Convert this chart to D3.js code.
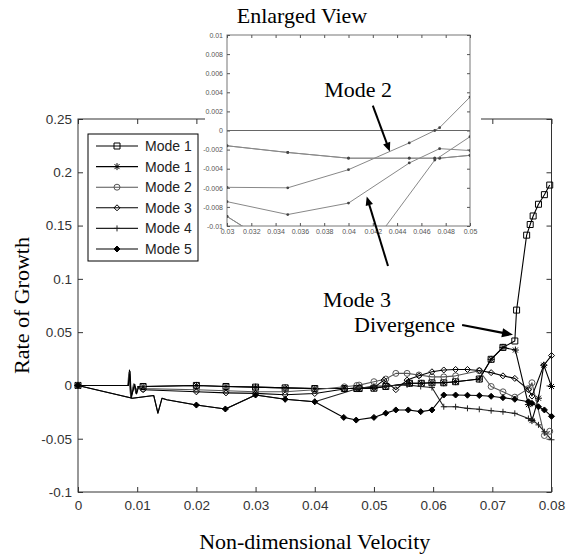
<!DOCTYPE html>
<html>
<head>
<meta charset="utf-8">
<script src="https://cdn.jsdelivr.net/npm/d3@7"></script>
<style>
  html, body { margin: 0; padding: 0; background: #fff; }
  svg { display: block; }
</style>
</head>
<body>
<svg id="chart" width="574" height="556"></svg>
<script>
// ---------- data: [non-dimensional velocity, rate of growth] ----------
const mode1Square = [
  [0,0],[0.0085,0],[0.0087,0.0145],[0.0089,-0.011],[0.0095,0.001],[0.0098,-0.0075],[0.0101,-0.001],
  [0.011,-0.001],[0.02,0],[0.025,-0.001],[0.03,-0.0016],[0.035,-0.0023],[0.04,-0.0029],[0.045,-0.0029],
  [0.0471,-0.0029],[0.0475,-0.0029],[0.05,-0.0026],[0.052,-0.001],[0.056,0.002],[0.058,0.002],
  [0.0598,0.0025],[0.0618,0.0025],[0.0638,0.0035],[0.0678,0.006],[0.0698,0.0245],[0.0718,0.0357],
  [0.0738,0.0417],[0.0741,0.0707],[0.0758,0.141],[0.0764,0.151],[0.0769,0.159],[0.0778,0.170],
  [0.0788,0.179],[0.0797,0.188]
];
const mode1Star = [
  [0,0],[0.0085,0],[0.0088,0.013],[0.009,-0.012],[0.0095,0.0005],[0.0099,-0.007],[0.0102,-0.001],
  [0.011,-0.001],[0.02,0],[0.025,-0.001],[0.03,-0.0016],[0.035,-0.0023],[0.04,-0.0029],[0.045,-0.0029],
  [0.0471,-0.0029],[0.0475,-0.0029],[0.05,-0.0026],[0.052,-0.001],[0.056,0.002],[0.058,0.002],
  [0.0598,0.0025],[0.0618,0.0025],[0.0638,0.0035],[0.0678,0.006],[0.0698,0.0245],[0.0718,0.0357],
  [0.0739,0.0332],[0.0761,-0.018],[0.0767,-0.033],[0.0778,-0.012],[0.0787,0.019],[0.08,-0.001]
];
const mode2 = [
  [0,0],[0.0084,0],[0.0086,0.012],[0.0089,-0.0105],[0.0094,0.0015],[0.0098,-0.006],[0.0101,-0.002],
  [0.011,-0.003],[0.02,-0.004],[0.025,-0.005],[0.03,-0.00595],[0.035,-0.006],[0.04,-0.0041],
  [0.045,-0.0013],[0.0471,0],[0.0475,0.0003],[0.05,0.0035],[0.052,0.006],[0.0537,0.0113],
  [0.0556,0.0113],[0.0576,0.0098],[0.0598,0.008],[0.0618,0.008],[0.0638,0.009],[0.0678,0.0138],
  [0.0698,-0.001],[0.0718,-0.006],[0.0738,-0.011],[0.0761,-0.003],[0.0767,0.0025],[0.0788,-0.047],
  [0.0797,-0.043]
];
const mode3 = [
  [0,0],[0.0085,0],[0.0087,0.011],[0.009,-0.010],[0.0096,0.001],[0.0099,-0.008],[0.0102,-0.002],
  [0.011,-0.004],[0.02,-0.006],[0.025,-0.007],[0.03,-0.00745],[0.035,-0.0088],[0.04,-0.0076],
  [0.045,-0.0034],[0.0475,-0.0019],[0.05,-0.0021],[0.0517,0.005],[0.0537,-0.004],[0.0556,0.005],
  [0.0576,0.009],[0.0598,0.0128],[0.0618,0.0145],[0.0638,0.015],[0.0658,0.015],[0.0678,0.014],
  [0.0698,0.012],[0.0718,0.009],[0.0738,0.0066],[0.0761,-0.004],[0.0767,-0.010],[0.0787,0.019],
  [0.08,0.028]
];
const mode4 = [
  [0,0],[0.0092,-0.012],[0.0128,-0.0095],[0.0135,-0.026],[0.0142,-0.012],[0.015,-0.0135],
  [0.02,-0.0184],[0.0249,-0.0221],[0.03,-0.009],[0.035,-0.013],[0.04,-0.0153],[0.0471,-0.0031],
  [0.05,-0.00065],[0.052,-0.0005],[0.0556,0.0005],[0.0579,-0.001],[0.0598,-0.002],[0.0618,-0.020],
  [0.0638,-0.020],[0.0658,-0.0215],[0.0678,-0.0224],[0.0698,-0.0237],[0.0718,-0.0247],
  [0.0738,-0.0262],[0.0761,-0.031],[0.0767,-0.032],[0.0778,-0.037],[0.0788,-0.0434],[0.08,-0.051]
];
const mode5 = [
  [0,0],[0.0092,-0.012],[0.0128,-0.0095],[0.0135,-0.026],[0.0142,-0.012],[0.015,-0.0135],
  [0.02,-0.0184],[0.0249,-0.0221],[0.03,-0.009],[0.035,-0.013],[0.04,-0.0153],[0.0449,-0.030],
  [0.047,-0.0325],[0.05,-0.030],[0.052,-0.026],[0.0537,-0.023],[0.0558,-0.023],[0.0579,-0.0246],
  [0.0598,-0.023],[0.0618,-0.009],[0.0638,-0.009],[0.0658,-0.0092],[0.0678,-0.0095],
  [0.0698,-0.0102],[0.0718,-0.0115],[0.0738,-0.013],[0.0761,-0.0153],[0.0767,-0.0168],
  [0.0778,-0.020],[0.0788,-0.023],[0.08,-0.029]
];

const legendLabels = ["Mode 1", "Mode 1", "Mode 2", "Mode 3", "Mode 4", "Mode 5"];

const xTicks = [0, 0.01, 0.02, 0.03, 0.04, 0.05, 0.06, 0.07, 0.08];
const xTickLabels = ["0", "0.01", "0.02", "0.03", "0.04", "0.05", "0.06", "0.07", "0.08"];
const yTicks = [-0.1, -0.05, 0, 0.05, 0.1, 0.15, 0.2, 0.25];
const yTickLabels = ["-0.1", "-0.05", "0", "0.05", "0.1", "0.15", "0.2", "0.25"];

const insetXTicks = [0.03, 0.032, 0.034, 0.036, 0.038, 0.04, 0.042, 0.044, 0.046, 0.048, 0.05];
const insetXTickLabels = ["0.03", "0.032", "0.034", "0.036", "0.038", "0.04", "0.042", "0.044", "0.046", "0.048", "0.05"];
const insetYTicks = [-0.01, -0.008, -0.006, -0.004, -0.002, 0, 0.002, 0.004, 0.006, 0.008, 0.01];
const insetYTickLabels = ["-0.01", "-0.008", "-0.006", "-0.004", "-0.002", "0", "0.002", "0.004", "0.006", "0.008", "0.01"];

// ---------- styling ----------
const SANS = "'Liberation Sans', Arial, sans-serif";
const SERIF = "'Liberation Serif', 'Times New Roman', serif";

const markerPaths = {
  square: "M-3,-3H3V3H-3Z",
  star: "M-3.5,0H3.5M0,-3.5V3.5M-2.5,-2.5L2.5,2.5M-2.5,2.5L2.5,-2.5",
  circle: d3.symbol(d3.symbolCircle, 28)(),
  diamond: "M0,-3L3,0L0,3L-3,0Z",
  plus: "M-3,0H3M0,-3V3",
  filledDiamond: "M0,-3L3,0L0,3L-3,0Z"
};

const series = [
  { data: mode1Square, marker: "square", color: "#000", fill: "none" },
  { data: mode1Star, marker: "star", color: "#000", fill: "none" },
  { data: mode2, marker: "circle", color: "#555", fill: "none" },
  { data: mode3, marker: "diamond", color: "#000", fill: "none" },
  { data: mode4, marker: "plus", color: "#222", fill: "none" },
  { data: mode5, marker: "filledDiamond", color: "#000", fill: "#000" }
];

// transient bursts are drawn as plain line work, without markers
const burstWindows = [[0.0083, 0.0106], [0.0125, 0.0152]];
const inBurst = v => burstWindows.some(([a, b]) => v > a && v < b);

const svg = d3.select("#chart");

// ---------- main axes ----------
const x = d3.scaleLinear().domain([0, 0.08]).range([78, 551.5]);
const y = d3.scaleLinear().domain([-0.1, 0.25]).range([492, 119]);

function styleAxis(g, size, color) {
  g.attr("font-family", SANS).attr("font-size", size);
  g.select(".domain").remove();
  g.selectAll(".tick line").attr("stroke", color);
  g.selectAll(".tick text").attr("fill", color);
}

const mainG = svg.append("g");
mainG.append("g").attr("transform", `translate(${x(0)},0)`)
  .call(d3.axisLeft(y).tickValues(yTicks).tickFormat(d => yTickLabels[yTicks.indexOf(d)])
    .tickSizeInner(-5).tickSizeOuter(0).tickPadding(6))
  .call(g => styleAxis(g, 13.5, "#333"));
mainG.append("g").attr("transform", `translate(0,${y(-0.1)})`)
  .call(d3.axisBottom(x).tickValues(xTicks).tickFormat(d => xTickLabels[xTicks.indexOf(d)])
    .tickSizeInner(-5).tickSizeOuter(0).tickPadding(8))
  .call(g => styleAxis(g, 13.5, "#333"));
mainG.append("g").attr("transform", `translate(${x(0.08)},0)`)
  .call(d3.axisRight(y).tickValues(yTicks).tickFormat("").tickSizeInner(-5).tickSizeOuter(0))
  .call(g => styleAxis(g, 13.5, "#333"));
mainG.append("g").attr("transform", `translate(0,${y(0.25)})`)
  .call(d3.axisTop(x).tickValues(xTicks).tickFormat("").tickSizeInner(-5).tickSizeOuter(0))
  .call(g => styleAxis(g, 13.5, "#333"));
mainG.append("rect")
  .attr("x", x(0)).attr("y", y(0.25))
  .attr("width", x(0.08) - x(0)).attr("height", y(-0.1) - y(0.25))
  .attr("fill", "none").attr("stroke", "#333").attr("stroke-width", 1);

// ---------- main series ----------
const line = d3.line().x(d => x(d[0])).y(d => y(d[1]));
const seriesG = mainG.append("g");
series.forEach(s => {
  seriesG.append("path").attr("d", line(s.data))
    .attr("fill", "none").attr("stroke", s.color).attr("stroke-width", 1.1)
    .attr("stroke-linejoin", "round");
});
series.forEach(s => {
  seriesG.append("g").selectAll("path")
    .data(s.data.filter(d => !inBurst(d[0])))
    .join("path")
    .attr("d", markerPaths[s.marker])
    .attr("transform", d => `translate(${x(d[0])},${y(d[1])})`)
    .attr("fill", s.fill).attr("stroke", s.color).attr("stroke-width", 1);
});

// ---------- legend ----------
const legend = svg.append("g").attr("transform", "translate(88,134)");
legend.append("rect").attr("width", 110).attr("height", 127)
  .attr("fill", "#fff").attr("stroke", "#000").attr("stroke-width", 1);
series.forEach((s, i) => {
  const ly = 12 + i * 20.6;
  const row = legend.append("g").attr("transform", `translate(0,${ly})`);
  row.append("line").attr("x1", 8).attr("x2", 50).attr("y1", 0).attr("y2", 0)
    .attr("stroke", s.color).attr("stroke-width", 1.1);
  row.append("path").attr("d", markerPaths[s.marker]).attr("transform", "translate(29,0)")
    .attr("fill", s.fill).attr("stroke", s.color).attr("stroke-width", 1);
  row.append("text").attr("x", 57).attr("y", 5)
    .attr("font-family", SANS).attr("font-size", 14).attr("fill", "#222")
    .text(legendLabels[i]);
});

// ---------- annotation arrows ----------
function arrow(parent, x1, y1, x2, y2, width, head) {
  const a = Math.atan2(y2 - y1, x2 - x1);
  const bx = x2 - head * Math.cos(a), by = y2 - head * Math.sin(a);
  const hw = head * 0.42;
  parent.append("line")
    .attr("x1", x1).attr("y1", y1)
    .attr("x2", bx + 2 * Math.cos(a)).attr("y2", by + 2 * Math.sin(a))
    .attr("stroke", "#000").attr("stroke-width", width);
  parent.append("path")
    .attr("d", `M${x2},${y2}L${bx - hw * Math.sin(a)},${by + hw * Math.cos(a)}L${bx + hw * Math.sin(a)},${by - hw * Math.cos(a)}Z`)
    .attr("fill", "#000");
}

// divergence point of the first mode
svg.append("text").attr("x", x(0.0637)).attr("y", y(0.050))
  .attr("text-anchor", "end").attr("font-family", SERIF).attr("font-size", 22)
  .text("Divergence");
arrow(svg, x(0.0649), y(0.0567), x(0.0735), y(0.0475), 2.2, 11);

// ---------- enlarged view ----------
const xi = d3.scaleLinear().domain([0.03, 0.05]).range([227, 470]);
const yi = d3.scaleLinear().domain([-0.01, 0.01]).range([226, 35]);

const inset = svg.append("g");
inset.append("rect").attr("x", 205).attr("y", 30).attr("width", 276).attr("height", 210).attr("fill", "#fff");
inset.append("rect").attr("x", xi(0.03)).attr("y", yi(0.01))
  .attr("width", xi(0.05) - xi(0.03)).attr("height", yi(-0.01) - yi(0.01))
  .attr("fill", "#fff").attr("stroke", "#777").attr("stroke-width", 1);

inset.append("g").attr("transform", `translate(${xi(0.03)},0)`)
  .call(d3.axisLeft(yi).tickValues(insetYTicks).tickFormat(d => insetYTickLabels[insetYTicks.indexOf(d)])
    .tickSizeInner(-3).tickSizeOuter(0).tickPadding(4))
  .call(g => styleAxis(g, 7, "#555"));
inset.append("g").attr("transform", `translate(0,${yi(-0.01)})`)
  .call(d3.axisBottom(xi).tickValues(insetXTicks).tickFormat(d => insetXTickLabels[insetXTicks.indexOf(d)])
    .tickSizeInner(-3).tickSizeOuter(0).tickPadding(3))
  .call(g => styleAxis(g, 7, "#555"));
inset.append("g").attr("transform", `translate(${xi(0.05)},0)`)
  .call(d3.axisRight(yi).tickValues(insetYTicks).tickFormat("").tickSizeInner(-3).tickSizeOuter(0))
  .call(g => styleAxis(g, 7, "#555"));
inset.append("g").attr("transform", `translate(0,${yi(0.01)})`)
  .call(d3.axisTop(xi).tickValues(insetXTicks).tickFormat("").tickSizeInner(-3).tickSizeOuter(0))
  .call(g => styleAxis(g, 7, "#555"));

svg.append("clipPath").attr("id", "inset-clip").append("rect")
  .attr("x", xi(0.03)).attr("y", yi(0.01))
  .attr("width", xi(0.05) - xi(0.03)).attr("height", yi(-0.01) - yi(0.01));

const insetPlot = inset.append("g").attr("clip-path", "url(#inset-clip)");
insetPlot.append("line").attr("x1", xi(0.03)).attr("x2", xi(0.05)).attr("y1", yi(0)).attr("y2", yi(0))
  .attr("stroke", "#666").attr("stroke-width", 1);
const lineI = d3.line().x(d => xi(d[0])).y(d => yi(d[1]));
series.forEach(s => {
  insetPlot.append("path").attr("d", lineI(s.data))
    .attr("fill", "none").attr("stroke", "#888").attr("stroke-width", 1);
  insetPlot.append("g").selectAll("circle")
    .data(s.data.filter(d => d[0] >= 0.03 && d[0] <= 0.05))
    .join("circle")
    .attr("cx", d => xi(d[0])).attr("cy", d => yi(d[1])).attr("r", 1.4)
    .attr("fill", "#444");
});

svg.append("text").attr("x", 302).attr("y", 23).attr("text-anchor", "middle")
  .attr("font-family", SERIF).attr("font-size", 22).text("Enlarged View");

svg.append("text").attr("x", xi(0.0408)).attr("y", yi(0.0035)).attr("text-anchor", "middle")
  .attr("font-family", SERIF).attr("font-size", 22).text("Mode 2");
arrow(svg, xi(0.0420), yi(0.0026), xi(0.0434), yi(-0.0022), 2, 9);

svg.append("text").attr("x", 357).attr("y", 307).attr("text-anchor", "middle")
  .attr("font-family", SERIF).attr("font-size", 22).text("Mode 3");
arrow(svg, 388, 266, xi(0.0415), yi(-0.0069), 2, 9);

// ---------- axis titles ----------
svg.append("text").attr("x", (x(0) + x(0.08)) / 2).attr("y", 549).attr("text-anchor", "middle")
  .attr("font-family", SERIF).attr("font-size", 22).text("Non-dimensional Velocity");
svg.append("text").attr("transform", `translate(29,${(y(0.25) + y(-0.1)) / 2}) rotate(-90)`)
  .attr("text-anchor", "middle").attr("font-family", SERIF).attr("font-size", 22)
  .text("Rate of Growth");
</script>
</body>
</html>
